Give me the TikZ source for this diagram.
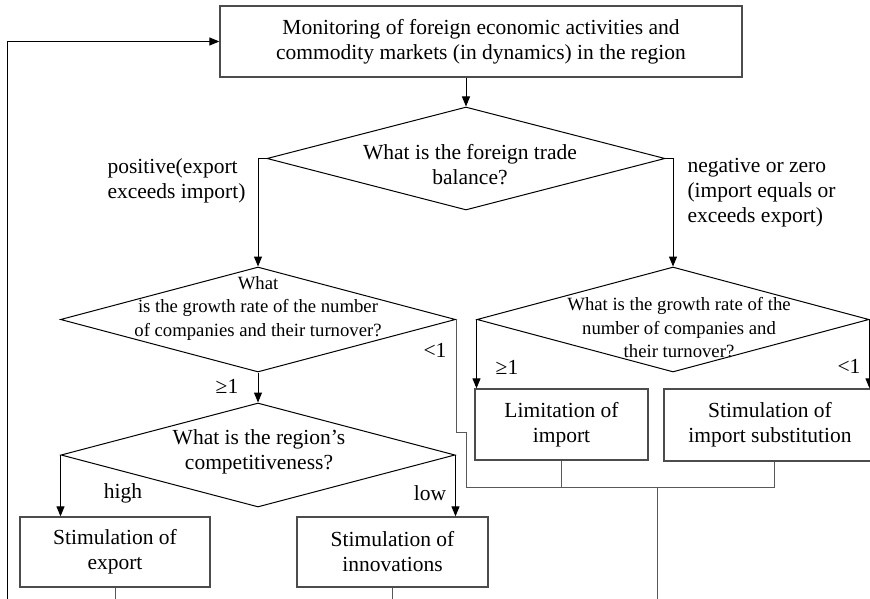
\documentclass[tikz,border=0pt]{standalone}
\usepackage{fontspec}
\setmainfont{Liberation Serif}
\usetikzlibrary{arrows.meta,shapes.geometric}

\begin{document}
\begin{tikzpicture}[
  x=1pt,y=-1pt,
  box/.style={draw=black!70,line width=1.3pt,inner sep=0pt,align=center,
    font=\fontsize{21.5}{25}\selectfont},
  decision/.style={draw,diamond,line width=1pt,inner sep=0pt},
  question/.style={align=center,font=\fontsize{21.5}{25}\selectfont},
  small question/.style={align=center,font=\fontsize{18.7}{23.5}\selectfont},
  tag/.style={align=left,font=\fontsize{21.5}{25}\selectfont},
  flow/.style={line width=1pt,-{Triangle[length=10pt,width=8pt]}},
  bus/.style={line width=1pt,draw=black!65}
]
  \useasboundingbox (0,0) rectangle (870,599);
  \clip (0,0) rectangle (870,599);

  % top box and first question
  \node[box,minimum width=522pt,minimum height=71pt] (mon) at (481,41.5)
    {Monitoring of foreign economic activities and\\commodity markets (in dynamics) in the region};
  \node[decision,minimum width=398pt,minimum height=103pt] (d1) at (466,158.5) {};
  \node[question] (q1) at (470,164.5) {What is the foreign trade\\balance?};

  % growth rate questions
  \node[decision,minimum width=395pt,minimum height=105pt] (d2) at (258,319.5) {};
  \node[small question] (q2) at (258,308.5)
    {What\\is the growth rate of the number\\of companies and their turnover?};
  \node[decision,minimum width=392pt,minimum height=105pt] (d3) at (673,319.5) {};
  \node[small question] (q3) at (679,328)
    {What is the growth rate of the\\number of companies and\\their turnover?};
  \node[decision,minimum width=394pt,minimum height=104pt] (d4) at (258,455) {};
  \node[question] (q4) at (259,452) {What is the region's\\competitiveness?};

  % measures
  \node[box,minimum width=173pt,minimum height=71pt] (lim) at (561.5,424.5) {Limitation of\\import};
  \node[box,minimum width=212pt,minimum height=72pt] (sub) at (770,425) {Stimulation of\\import substitution};
  \node[box,minimum width=190pt,minimum height=70pt] (exp) at (115,552) {Stimulation of\\export};
  \node[box,minimum width=191pt,minimum height=70pt] (inn) at (392.5,552) {Stimulation of\\innovations};

  % branch labels
  \node[tag,anchor=west] (pos) at (104,180.5) {positive(export\\exceeds import)};
  \node[tag,anchor=west] (neg) at (684,193) {negative or zero\\(import equals or\\exceeds export)};
  \node[tag] (ge2) at (227,386) {≥1};
  \node[tag] (lt2) at (435,350) {<1};
  \node[tag] (ge3) at (507,367) {≥1};
  \node[tag] (lt3) at (849,366) {<1};
  \node[tag] (hi) at (123,493) {high};
  \node[tag] (lo) at (430,493) {low};

  \coordinate (jog) at (466,432);
  \coordinate (merge) at (657,487);
  \coordinate (out) at (657,599);
  \coordinate (loop) at (7,599);

  % arrows
  \draw[flow] (mon.south -| d1.north) -- (d1.north);
  \draw[flow] (d1.west) -- (d1.west -| d2.north) -- (d2.north);
  \draw[flow] (d1.east) -- (d1.east -| d3.north) -- (d3.north);
  \draw[flow] (d2.south) -- (d4.north);
  \draw[flow] (d4.west) -- (d4.west |- exp.north);
  \draw[flow] (d4.east) -- (d4.east |- inn.north);
  \draw[flow] (d3.west) -- (d3.west |- lim.north);
  \draw[flow] (d3.east) -- (d3.east |- sub.north);

  % joining lines
  \draw[bus] (d2.east) -- (d2.east |- jog) -- (jog) -- (jog |- merge);
  \draw[bus] (lim.south) -- (lim.south |- merge);
  \draw[bus] ([xshift=4pt]sub.south) |- (jog |- merge);
  \draw[bus] (merge) -- (out);
  \draw[bus] (exp.south) -- (exp.south |- out);
  \draw[bus] (inn.south) -- (inn.south |- out);
  \draw[flow] (loop) |- (mon.west);
\end{tikzpicture}
\end{document}
